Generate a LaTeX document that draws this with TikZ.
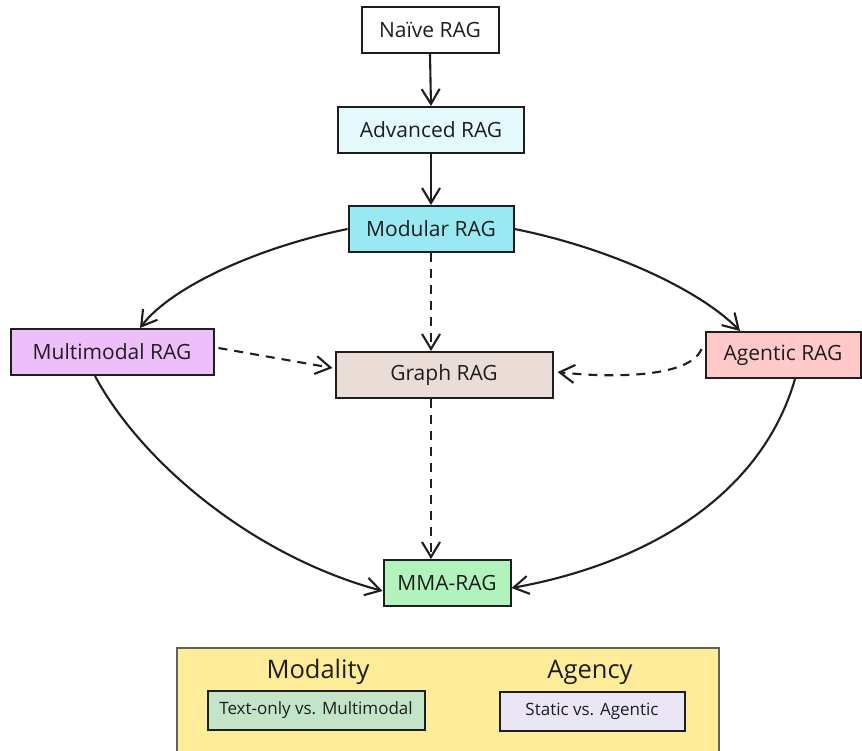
\documentclass[tikz,border=0pt]{standalone}
\usepackage{fontspec}
\setmainfont{Open Sans}
\usetikzlibrary{arrows.meta}
\definecolor{ink}{HTML}{1E1E1E}
\definecolor{cAdv}{HTML}{E3F9FB}
\definecolor{cMod}{HTML}{99E9F2}
\definecolor{cMulti}{HTML}{EEBEFA}
\definecolor{cGraph}{HTML}{EADDD7}
\definecolor{cAgent}{HTML}{FFC9C9}
\definecolor{cMMA}{HTML}{B2F2BB}
\definecolor{cLeg}{HTML}{FFEC99}
\definecolor{cText}{HTML}{C3E4C7}
\definecolor{cStatic}{HTML}{EBE6F5}
\tikzset{
  ragbox/.style={draw=ink, line width=2pt, text=ink, font=\fontsize{21}{24}\selectfont, minimum height=46pt, inner sep=0pt},
  legbox/.style={draw=ink, line width=2pt, text=ink, font=\fontsize{17}{20}\selectfont, minimum height=39pt, inner sep=0pt},
  legtitle/.style={text=ink, font=\fontsize{25.5}{28}\selectfont, inner sep=0pt},
  arr/.style={draw=ink, line width=2.1pt, -{Straight Barb[length=15pt,width=18pt,line width=2.1pt]}},
  darr/.style={arr, dash pattern=on 9pt off 7pt},
}
\begin{document}
\begin{tikzpicture}[x=1pt,y=-1pt]
\useasboundingbox (0,0) rectangle (862,750);
\fill[white] (0,0) rectangle (862,750);
% legend
\draw[draw=ink!70, line width=2pt, fill=cLeg] (177,648) rectangle (719,760);
\node[legtitle] (tmod) at (318,672) {Modality};
\node[legtitle] (tag) at (590,672) {Agency};
\node[legbox, fill=cText, minimum width=217pt] (lt) at (316,710) {Text-only vs. Multimodal};
\node[legbox, fill=cStatic, minimum width=185pt] (ls) at (592,711) {Static vs. Agentic};
% nodes
\node[ragbox, fill=white, minimum width=137pt] (naive) at (430,30) {Naïve RAG};
\node[ragbox, fill=cAdv, minimum width=186pt] (adv) at (431,130) {Advanced RAG};
\node[ragbox, fill=cMod, minimum width=165pt] (mod) at (431,229) {Modular RAG};
\node[ragbox, fill=cMulti, minimum width=203pt] (multi) at (112,352) {Multimodal RAG};
\node[ragbox, fill=cGraph, minimum width=217pt] (graph) at (444,375) {Graph RAG};
\node[ragbox, fill=cAgent, minimum width=155pt] (agent) at (783,355) {Agentic RAG};
\node[ragbox, fill=cMMA, minimum width=127pt] (mma) at (447,583) {MMA-RAG};
% connectors
\draw[arr] (naive.south) -- (adv.north);
\draw[arr] (adv.south) -- (mod.north);
\draw[arr] (mod.west) .. controls (255,248) and (170,288) .. ([xshift=28pt]multi.north);
\draw[arr] (mod.east) .. controls (610,248) and (700,290) .. ([xshift=-43pt]agent.north);
\draw[darr] (mod.south) -- (mod.south |- graph.north);
\draw[darr] ([xshift=4pt,yshift=4pt]multi.east) -- ([xshift=-2pt,yshift=7pt]graph.west);
\draw[darr] ([xshift=-3pt,yshift=6pt]agent.west) .. controls (690,378) and (610,378) .. ([xshift=4pt,yshift=3pt]graph.east);
\draw[darr] (mod.south |- graph.south) -- (mod.south |- mma.north);
\draw[arr] ([xshift=-17pt]multi.south) .. controls (140,460) and (250,555) .. ([yshift=-8pt]mma.west);
\draw[arr] ([xshift=12pt]agent.south) .. controls (760,500) and (640,565) .. ([yshift=-5pt]mma.east);
\end{tikzpicture}
\end{document}
